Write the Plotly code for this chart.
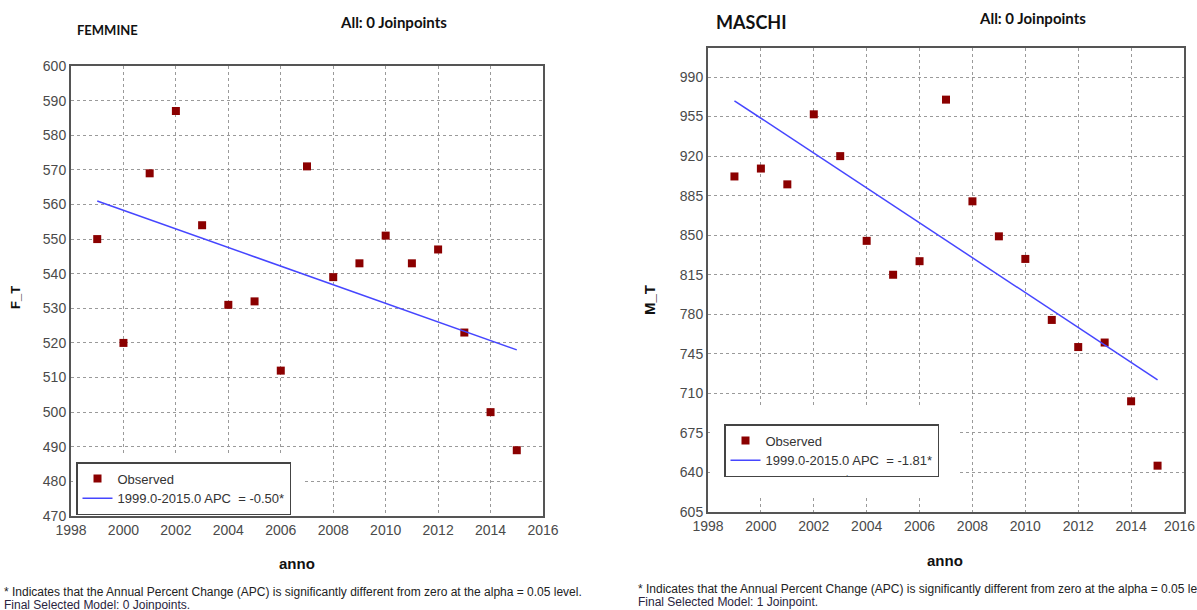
import plotly.graph_objects as go

W, H = 1197, 610

# ---------------- data ----------------
years = [1999, 2000, 2001, 2002, 2003, 2004, 2005, 2006, 2007, 2008,
         2009, 2010, 2011, 2012, 2013, 2014, 2015]
femmine_obs = [550, 520, 569, 587, 554, 531, 532, 512, 571, 539,
               543, 551, 543, 547, 523, 500, 489]
maschi_obs = [902, 909, 895, 957, 920, 845, 815, 827, 970, 880,
              849, 829, 775, 751, 755, 703, 646]
trend_years = [1999, 2015]
femmine_trend = [561, 518]
maschi_trend = [969, 722]
femmine_label = "1999.0-2015.0 APC\u00a0\u00a0= -0.50*"
maschi_label = "1999.0-2015.0 APC\u00a0\u00a0= -1.81*"
x_ticks = [1998, 2000, 2002, 2004, 2006, 2008, 2010, 2012, 2014, 2016]
f_ticks = [470, 480, 490, 500, 510, 520, 530, 540, 550, 560, 570, 580, 590, 600]
m_ticks = [605, 640, 675, 710, 745, 780, 815, 850, 885, 920, 955, 990]
footnote = ("* Indicates that the Annual Percent Change (APC) is significantly "
            "different from zero at the alpha = 0.05 level.")


def px(x):
    return x / W


def py(y):
    return 1 - y / H


NARROW = "Liberation Sans Narrow, Arial Narrow, Liberation Sans, Arial, sans-serif"
TITLEF = "Lato, Open Sans, sans-serif"
MARK = "#8b0000"
BLUE = "rgb(70,70,255)"

fig = go.Figure()

fig.add_trace(go.Scatter(x=years, y=femmine_obs, mode="markers", name="Observed",
                         marker=dict(symbol="square", size=8, color=MARK),
                         xaxis="x", yaxis="y", legend="legend"))
fig.add_trace(go.Scatter(x=trend_years, y=femmine_trend, mode="lines", name=femmine_label,
                         line=dict(color=BLUE, width=1.5),
                         xaxis="x", yaxis="y", legend="legend"))
fig.add_trace(go.Scatter(x=years, y=maschi_obs, mode="markers", name="Observed",
                         marker=dict(symbol="square", size=8, color=MARK),
                         xaxis="x2", yaxis="y2", legend="legend2"))
fig.add_trace(go.Scatter(x=trend_years, y=maschi_trend, mode="lines", name=maschi_label,
                         line=dict(color=BLUE, width=1.5),
                         xaxis="x2", yaxis="y2", legend="legend2"))

TICKFONT = dict(family=NARROW, size=14, color="#4a4a4a")
axis_common = dict(showgrid=True, gridcolor="#9a9a9a", griddash="dot", gridwidth=1,
                   showline=True, mirror=True, linecolor="#555555", linewidth=2,
                   zeroline=False, ticks="", automargin=False, tickfont=TICKFONT)

legend_common = dict(xanchor="left", yanchor="top",
                     bgcolor="white", bordercolor="#444444", borderwidth=1.5,
                     font=dict(family=NARROW, size=13, color="#333333"),
                     tracegroupgap=0, itemwidth=30)

# the last x label of the right panel sits on the page edge: drawn as a text below
x2_text = [str(v) for v in x_ticks[:-1]] + [""]

fig.update_layout(
    width=W, height=H,
    margin=dict(l=0, r=0, t=0, b=0, pad=0, autoexpand=False),
    paper_bgcolor="white", plot_bgcolor="white",
    showlegend=True,
    xaxis=dict(domain=[px(71), px(543)], range=[1998, 2016], tickvals=x_ticks,
               anchor="y", **axis_common),
    yaxis=dict(domain=[py(516), py(66)], range=[470, 600], tickvals=f_ticks,
               anchor="x", **axis_common),
    xaxis2=dict(domain=[px(708), px(1184)], range=[1998, 2016], tickvals=x_ticks,
                ticktext=x2_text, anchor="y2", **axis_common),
    yaxis2=dict(domain=[py(512), py(48)], range=[605, 1015.7], tickvals=m_ticks,
                anchor="x2", **axis_common),
    legend=dict(x=px(76), y=py(462), **legend_common),
    legend2=dict(x=px(724), y=py(424), **legend_common),
)

# white areas around the legends (grid hidden there in the original)
fig.add_shape(type="rect", xref="paper", yref="paper",
              x0=px(73), x1=px(302), y0=py(513), y1=py(455),
              fillcolor="white", line=dict(width=0), layer="above")
fig.add_shape(type="rect", xref="paper", yref="paper",
              x0=px(710), x1=px(957), y0=py(498), y1=py(406),
              fillcolor="white", line=dict(width=0), layer="above")

ann = []
ann.append(dict(text=str(x_ticks[-1]), x=px(1197), y=py(526),
                xanchor="right", yanchor="middle", font=TICKFONT))
ann.append(dict(text="<b>FEMMINE</b>", x=px(75), y=py(30), xanchor="left", yanchor="middle",
                font=dict(family=TITLEF, size=13, color="#111")))
ann.append(dict(text="<b>All: 0 Joinpoints</b>", x=px(338), y=py(22), xanchor="left",
                yanchor="middle", font=dict(family=TITLEF, size=15, color="#111")))
ann.append(dict(text="<b>MASCHI</b>", x=px(714), y=py(22), xanchor="left", yanchor="middle",
                font=dict(family=TITLEF, size=18, color="#111")))
ann.append(dict(text="<b>All: 0 Joinpoints</b>", x=px(977), y=py(18), xanchor="left",
                yanchor="middle", font=dict(family=TITLEF, size=15, color="#111")))
ann.append(dict(text="<b>F_T</b>", x=px(16), y=py(298), xanchor="center", yanchor="middle",
                textangle=-90, font=dict(family="Liberation Sans, Arial", size=13, color="#111")))
ann.append(dict(text="<b>M_T</b>", x=px(649), y=py(300), xanchor="center", yanchor="middle",
                textangle=-90, font=dict(family="Liberation Sans, Arial", size=15, color="#111")))
ann.append(dict(text="<b>anno</b>", x=px(297), y=py(563), xanchor="center", yanchor="middle",
                font=dict(family="Liberation Sans, Arial", size=15, color="#111")))
ann.append(dict(text="<b>anno</b>", x=px(945), y=py(560), xanchor="center", yanchor="middle",
                font=dict(family="Liberation Sans, Arial", size=15, color="#111")))
ann.append(dict(text=footnote, x=px(2), y=py(592), xanchor="left", yanchor="middle",
                font=dict(family=NARROW, size=12, color="#222")))
ann.append(dict(text="Final Selected Model: 0 Joinpoints.", x=px(2), y=py(605), xanchor="left",
                yanchor="middle", font=dict(family=NARROW, size=12, color="#2a2440")))
ann.append(dict(text=footnote, x=px(636), y=py(589), xanchor="left", yanchor="middle",
                font=dict(family=NARROW, size=12, color="#222")))
ann.append(dict(text="Final Selected Model: 1 Joinpoint.", x=px(636), y=py(602), xanchor="left",
                yanchor="middle", font=dict(family=NARROW, size=12, color="#2a2440")))
ann.append(dict(text=".", x=px(847), y=py(473), xanchor="center", yanchor="middle",
                font=dict(family=NARROW, size=8, color="#333")))
for a in ann:
    a.setdefault("xref", "paper")
    a.setdefault("yref", "paper")
    a["showarrow"] = False
fig.update_layout(annotations=ann)

fig.write_html("out.html")
